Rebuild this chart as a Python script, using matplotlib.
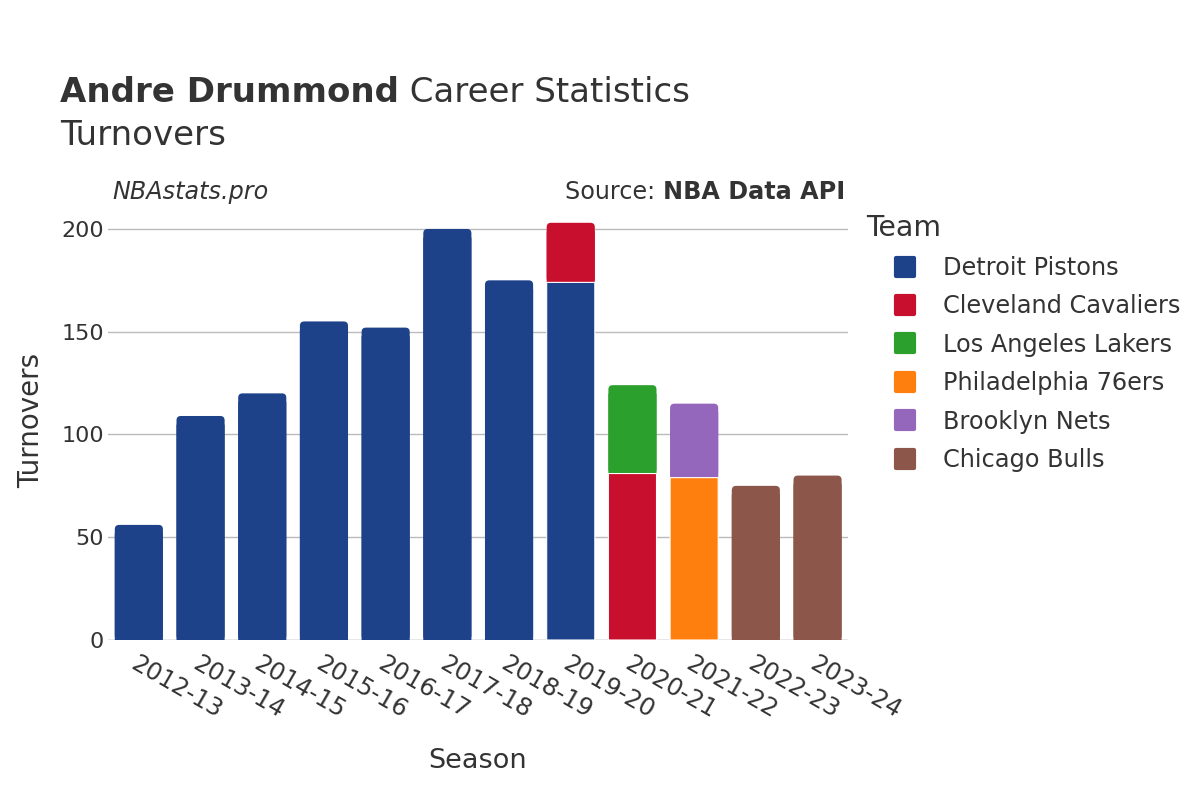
import matplotlib
matplotlib.use("Agg")
import matplotlib.pyplot as plt
from matplotlib.lines import Line2D
from matplotlib.markers import MarkerStyle
from matplotlib.patches import FancyBboxPatch, Rectangle
import numpy as np

seasons = ["2012-13", "2013-14", "2014-15", "2015-16", "2016-17", "2017-18",
           "2018-19", "2019-20", "2020-21", "2021-22", "2022-23", "2023-24"]
teams = ["Detroit Pistons", "Cleveland Cavaliers", "Los Angeles Lakers",
         "Philadelphia 76ers", "Brooklyn Nets", "Chicago Bulls"]
colors = ["#1d428a", "#c8102e", "#2ca02c", "#ff7f0e", "#9467bd", "#8c564b"]

# turnovers per team per season (0 = did not play for that team)
detroit      = [56, 109, 120, 155, 152, 200, 175, 174, 0, 0, 0, 0]
cleveland    = [0, 0, 0, 0, 0, 0, 0, 29, 81, 0, 0, 0]
lakers       = [0, 0, 0, 0, 0, 0, 0, 0, 43, 0, 0, 0]
philadelphia = [0, 0, 0, 0, 0, 0, 0, 0, 0, 79, 0, 0]
brooklyn     = [0, 0, 0, 0, 0, 0, 0, 0, 0, 36, 0, 0]
chicago      = [0, 0, 0, 0, 0, 0, 0, 0, 0, 0, 75, 80]

# stacking order as drawn (bottom to top)
stack = [(detroit, 0), (cleveland, 1), (philadelphia, 3), (lakers, 2),
         (brooklyn, 4), (chicago, 5)]

txt = "#333333"
plt.rcParams['font.family'] = ['DejaVu Sans']

fig = plt.figure(figsize=(12, 8), dpi=100)
ax = fig.add_axes([0.09, 0.2, 0.617, 0.549])

x = np.arange(len(seasons))
bottom = np.zeros(len(seasons))
top_rect = {}
for vals, ci in stack:
    v = np.array(vals, dtype=float)
    idx = np.nonzero(v > 0)[0]
    bars = ax.bar(x[idx], v[idx], bottom=bottom[idx], width=0.78,
                  color=colors[ci], edgecolor="white", linewidth=0.8,
                  zorder=3.2)
    for i, rect in zip(idx, bars):
        rect.set_snap(False)
        top_rect[i] = rect
    bottom += v

ax.set_xlim(-0.5, len(seasons) - 0.5)
ax.set_ylim(0, 213.7)

# round the top corners of each stack
rs, ry = 0.07, 2.1
for i, rect in top_rect.items():
    x0, y0 = rect.get_x(), rect.get_y()
    w, h = rect.get_width(), rect.get_height()
    fc = rect.get_facecolor()
    rect.set_visible(False)
    ax.add_patch(FancyBboxPatch((x0, y0), w, h,
                                boxstyle=f"round,pad=0,rounding_size={rs}",
                                mutation_aspect=ry / rs, fc=fc, ec="none",
                                zorder=3, snap=False))
    ax.add_patch(Rectangle((x0, y0), w, h - 2 * ry, fc=fc, ec="none",
                           zorder=3.1, snap=False))

ax.set_yticks([0, 50, 100, 150, 200])
ax.yaxis.grid(True, color="#bbbbbb", linewidth=1, zorder=0)
ax.axhline(0, color="#e6e6e6", linewidth=2, zorder=2)
for s in ax.spines.values():
    s.set_visible(False)
ax.tick_params(axis="both", length=0, colors=txt)
ax.tick_params(axis="y", pad=3, labelsize=16)
ax.tick_params(axis="x", pad=8, labelsize=17.5)
ax.set_xticks(x)
ax.set_xticklabels(seasons, rotation=-30, ha="left", rotation_mode="anchor")

fig.text(0.398, 0.049, "Season", fontsize=19.5, color=txt, ha="center", va="center")
fig.text(0.026, 0.475, "Turnovers", fontsize=20, color=txt, ha="center",
         va="center", rotation=90)

# title: bold name followed by normal text
fig.canvas.draw()
r = fig.canvas.get_renderer()
t1 = fig.text(0.05, 0.8725, "Andre Drummond", fontsize=24.5, fontweight="bold",
              color=txt, va="baseline")
bb = t1.get_window_extent(renderer=r)
fig.text(bb.x1 / fig.bbox.width, 0.8725, " Career Statistics", fontsize=24.5,
         color=txt, va="baseline")
fig.text(0.05, 0.819, "Turnovers", fontsize=24.5, color=txt, va="baseline")

fig.text(0.094, 0.751, "NBAstats.pro", fontsize=17.2, style="italic",
         color=txt, va="baseline")
t2 = fig.text(0.704, 0.751, "NBA Data API", fontsize=17.2, fontweight="bold",
              color=txt, va="baseline", ha="right")
bb2 = t2.get_window_extent(renderer=r)
fig.text(bb2.x0 / fig.bbox.width, 0.751, "Source: ", fontsize=17.2, color=txt,
         va="baseline", ha="right")

mk = MarkerStyle("s", joinstyle="round")
handles = [Line2D([0], [0], marker=mk, linestyle="none", markersize=13,
                  markeredgewidth=3, markerfacecolor=c, markeredgecolor=c)
           for c in colors]
leg = fig.legend(handles, teams, loc="upper left", bbox_to_anchor=(0.714, 0.745),
                 frameon=False, fontsize=17.3, title="Team",
                 title_fontsize=20.4, labelspacing=0.6, handletextpad=0.0,
                 handlelength=3.2, borderaxespad=0)
leg._legend_box.align = "left"
for t in leg.get_texts():
    t.set_color(txt)
leg.get_title().set_color(txt)

fig.savefig("out.png", dpi=100)
